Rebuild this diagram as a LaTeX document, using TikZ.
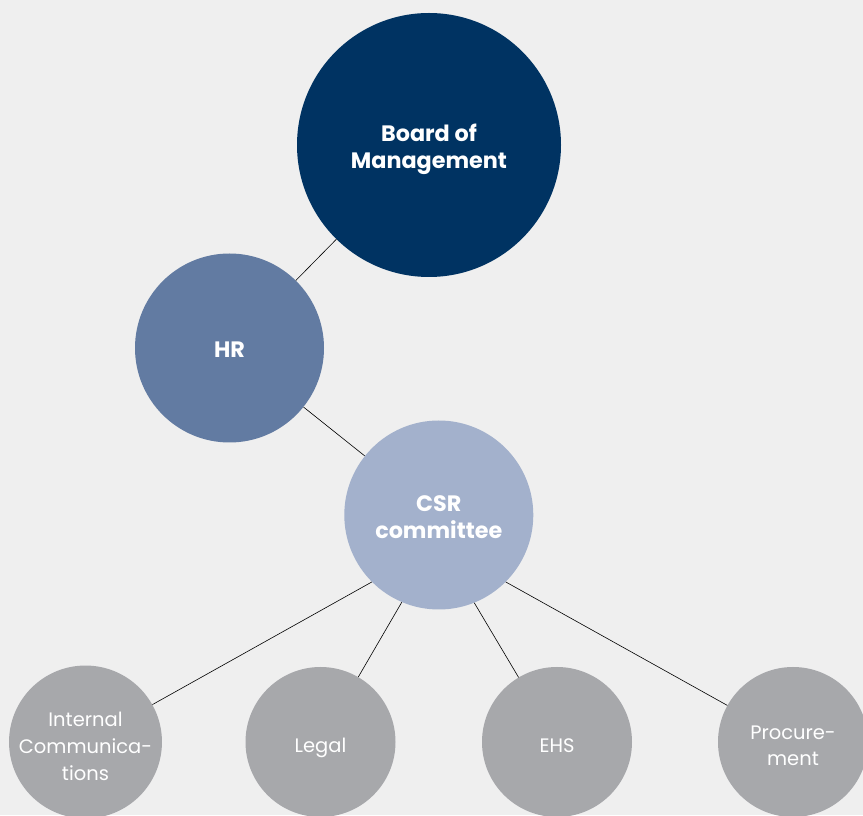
\documentclass[tikz,border=0pt]{standalone}
\usepackage{fontspec}
\setmainfont{Poppins}
\usepackage{xcolor}
\definecolor{BgGrey}{HTML}{EFEFEF}
\definecolor{BoardBlue}{HTML}{003362}
\definecolor{HRBlue}{HTML}{627BA2}
\definecolor{CSRBlue}{HTML}{A3B1CC}
\definecolor{UnitGrey}{HTML}{A7A8AB}

\begin{document}
\begin{tikzpicture}[x=1pt, y=1pt,
    circ/.style={circle, inner sep=0pt, align=center, text=white, text depth=0pt},
    lead/.style={circ, text height=20pt, font=\bfseries\fontsize{22.3}{27}\selectfont},
    unit/.style={circ, fill=UnitGrey, minimum size=150pt, text height=21pt, font=\fontsize{19.5}{26.7}\selectfont},
    link/.style={draw=black, line width=0.6pt}]
                \fill[BgGrey] (0,0) rectangle (863,815);
                \clip (0,0) rectangle (863,815);

                % top of the chain
                \node[lead, fill=BoardBlue, minimum size=264pt, text height=47pt] (board) at (429,670) {Board of\\Management};
                \node[lead, fill=HRBlue, minimum size=189pt] (hr) at (229.5,467) {HR};
                \node[lead, fill=CSRBlue, minimum size=189pt, text height=47pt] (csr) at (438.8,300) {CSR\\committee};

                % departments
                \node[unit, text height=76pt] (intcom) at (85.5,73) {Internal\\Communica-\\tions};
                \node[unit] (legal) at (320.5,73) {Legal};
                \node[unit] (ehs) at (557,73) {EHS};
                \node[unit, text height=47.7pt] (proc) at (793,73) {Procure-\\ment};

                \draw[link] (board) -- (hr);
                \draw[link] (hr) -- (csr);
                \draw[link] (csr.225) -- (intcom);
                \draw[link] (csr.247.5) -- (legal);
                \draw[link] (csr.292.5) -- (ehs);
                \draw[link] (csr.315) -- (proc);
            \end{tikzpicture}
\end{document}
